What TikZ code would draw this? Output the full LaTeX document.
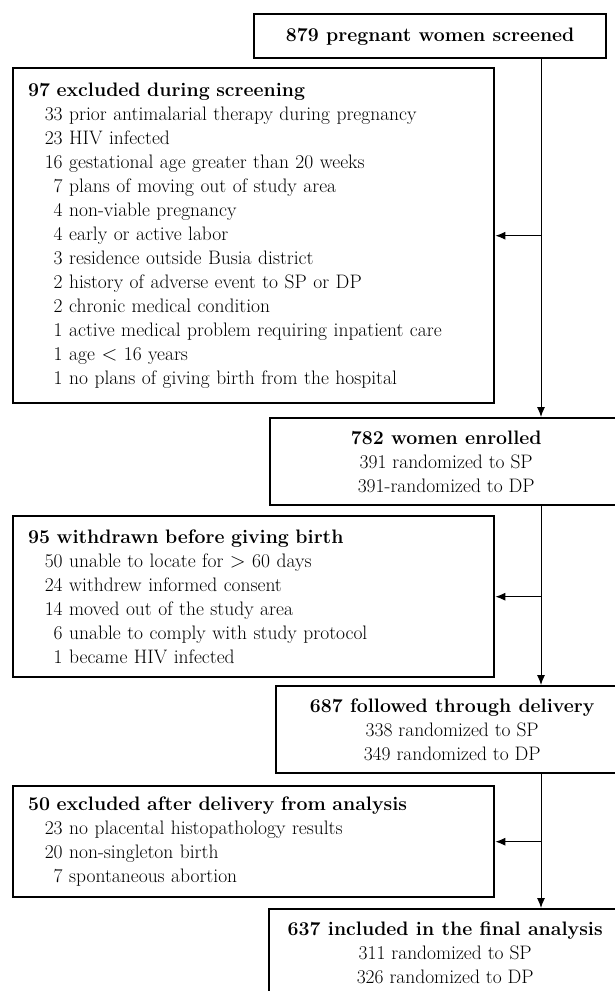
\documentclass[tikz,border=0pt]{standalone}
\usetikzlibrary{arrows.meta}
\newcommand{\exitem}[2]{\hspace*{15pt}\makebox[19.5pt][r]{#1} #2}

\begin{document}
\begin{tikzpicture}[x=1pt, y=-1pt,
  every node/.style={font=\fontsize{19.5}{24}\selectfont},
  box/.style={draw, line width=2.4pt, inner sep=0pt, anchor=north west},
  leftbox/.style={box, minimum width=481pt, text width=451pt, inner xsep=15pt, align=left},
  rightbox/.style={box, minimum width=352pt, minimum height=87pt, align=center},
  arr/.style={line width=1pt, -{Latex[length=10pt,width=8pt]}}]
\useasboundingbox (0,0) rectangle (615,991);
\clip (0,0) rectangle (615,991);
\coordinate (trunk) at (541,0); %%main line
\node[box, minimum width=352pt, minimum height=44pt] (screened) at (253,13) {\bfseries 879 pregnant women screened};
\node[leftbox, minimum height=335pt] (excluded) at (12,67) {{\bfseries 97 excluded during screening}\\
  \exitem{33}{prior antimalarial therapy during pregnancy}\\
  \exitem{23}{HIV infected}\\
  \exitem{16}{gestational age greater than 20 weeks}\\
  \exitem{7}{plans of moving out of study area}\\
  \exitem{4}{non-viable pregnancy}\\
  \exitem{4}{early or active labor}\\
  \exitem{3}{residence outside Busia district}\\
  \exitem{2}{history of adverse event to SP or DP}\\
  \exitem{2}{chronic medical condition}\\
  \exitem{1}{active medical problem requiring inpatient care}\\
  \exitem{1}{age $<$ 16 years}\\
  \exitem{1}{no plans of giving birth from the hospital}};
\node[rightbox] (enrolled) at (269,417) {{\bfseries 782 women enrolled}\\391 randomized to SP\\391-randomized to DP};
\node[leftbox, minimum height=161pt] (withdrawn) at (12,515) {{\bfseries 95 withdrawn before giving birth}\\
  \exitem{50}{unable to locate for $>$ 60 days}\\
  \exitem{24}{withdrew informed consent}\\
  \exitem{14}{moved out of the study area}\\
  \exitem{6}{unable to comply with study protocol}\\
  \exitem{1}{became HIV infected}};
\node[rightbox] (delivered) at (275,685) {{\bfseries 687 followed through delivery}\\338 randomized to SP\\349 randomized to DP};
\node[leftbox, minimum height=111pt] (dropped) at (12,785) {{\bfseries 50 excluded after delivery from analysis}\\
  \exitem{23}{no placental histopathology results}\\
  \exitem{20}{non-singleton birth}\\
  \exitem{7}{spontaneous abortion}};
\node[rightbox] (analysed) at (268,908) {{\bfseries 637 included in the final analysis}\\311 randomized to SP\\326 randomized to DP};
%% trunk and side arrows
\draw[arr] (screened.south -| trunk) -- (enrolled.north -| trunk);
\draw[arr] (excluded.east -| trunk) -- (excluded.east);
\draw[arr] (enrolled.south -| trunk) -- (delivered.north -| trunk);
\draw[arr] (withdrawn.east -| trunk) -- (withdrawn.east);
\draw[arr] (delivered.south -| trunk) -- (analysed.north -| trunk);
\draw[arr] (dropped.east -| trunk) -- (dropped.east);
\end{tikzpicture}
\end{document}
